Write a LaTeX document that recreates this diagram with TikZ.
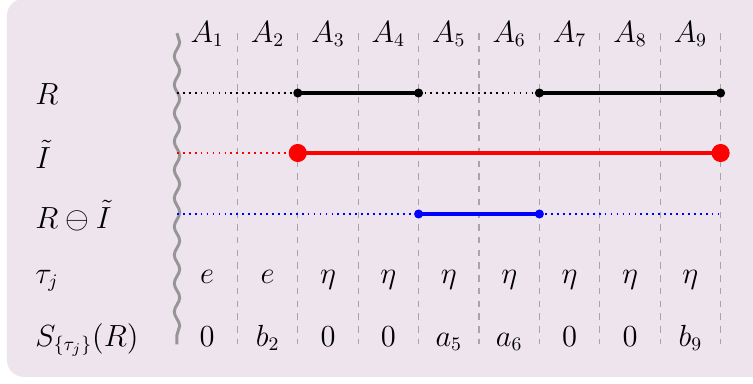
\documentclass[tikz,border=0pt]{standalone}
\usepackage{amsmath,amssymb}
\usetikzlibrary{decorations.pathmorphing}
\definecolor{boxbg}{RGB}{237,228,238}
\definecolor{gridgray}{RGB}{168,165,170}
\definecolor{wavegray}{RGB}{150,150,150}

\begin{document}
\begin{tikzpicture}[
    every node/.style={font=\fontsize{13.4}{16}\selectfont},
    lbl/.style={anchor=base west,inner sep=0pt},
    cell/.style={anchor=base,inner sep=0pt},
    gridline/.style={gridgray,dashed,line width=0.6pt},
    wavy/.style={wavegray,line width=1.4pt,decorate,
        decoration={snake,amplitude=0.045cm,segment length=0.47cm}},
    gap/.style={dotted,thick},
    seg/.style={line width=1.7pt},
    bdot/.style={circle,fill=black,inner sep=0pt,minimum size=0.15cm},
    rdot/.style={circle,fill=red,inner sep=0pt,minimum size=0.3cm},
    udot/.style={circle,fill=blue,inner sep=0pt,minimum size=0.15cm}]
    \useasboundingbox (-2.930,1.540) rectangle (9.536,-4.801);
    % Background box
    \fill[boxbg,rounded corners=0.28cm] (-2.815,1.56) rectangle (10.0,-4.70);

    % Columns
    \foreach \i in {1,...,9} {
        \coordinate (t\i) at (\i,0.99);
        \coordinate (b\i) at (\i,-4.16);
        \draw[gridline] (t\i) -- (b\i);
        \node[cell] (A\i) at (\i-0.5,0.844) {$A_{\i}$};
    }
    \coordinate (wt) at (0,0.99);
    \coordinate (wb) at (0,-4.16);
    \draw[wavy] (wt) -- (wb);

    % Row labels
    \node[lbl] (lR) at (-2.35,-0.182) {$R$};
    \node[lbl] (lI) at (-2.35,-1.242) {$\tilde{I}$};
    \node[lbl] (lRI) at (-2.35,-2.235) {$R\ominus\tilde{I}$};
    \node[lbl] (ltau) at (-2.35,-3.146) {$\tau_j$};
    \node[lbl] (lS) at (-2.35,-4.189) {$S_{\{\tau_j\}}(R)$};

    % R
    \foreach \i in {0,2,4,6,9} \coordinate (R\i) at (\i,0);
    \draw[gap] (R0) -- (R2);
    \draw[seg] (R2) -- (R4);
    \draw[gap] (R4) -- (R6);
    \draw[seg] (R6) -- (R9);
    \foreach \i in {2,4,6,9} \node[bdot] (dR\i) at (R\i) {};

    % I tilde
    \foreach \i in {0,2,9} \coordinate (I\i) at (\i,-0.993);
    \draw[gap,red] (I0) -- (I2);
    \draw[seg,red] (I2) -- (I9);
    \foreach \i in {2,9} \node[rdot] (dI\i) at (I\i) {};

    % R minus I
    \foreach \i in {0,4,6,9} \coordinate (D\i) at (\i,-2.003);
    \draw[gap,blue] (D0) -- (D4);
    \draw[seg,blue] (D4) -- (D6);
    \draw[gap,blue] (D6) -- (D9);
    \foreach \i in {4,6} \node[udot] (dD\i) at (D\i) {};

    % tau_j and S values
    \foreach \v [count=\i] in {e,e,\eta,\eta,\eta,\eta,\eta,\eta,\eta}
        \node[cell] (tau\i) at (\i-0.5,-3.146) {$\v$};
    \foreach \v [count=\i] in {0,b_2,0,0,a_5,a_6,0,0,b_9}
        \node[cell] (S\i) at (\i-0.5,-4.189) {$\v$};
\end{tikzpicture}
\end{document}
